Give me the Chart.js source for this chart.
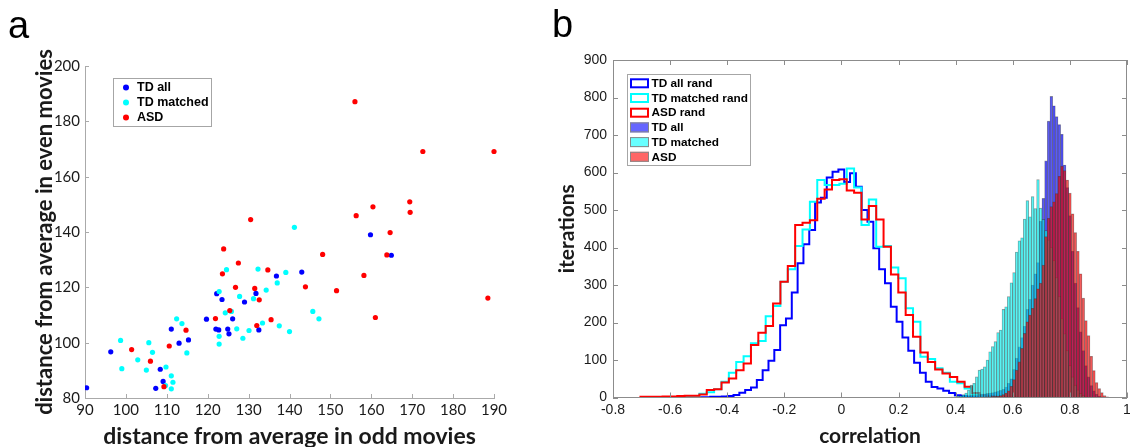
<!DOCTYPE html>
<html>
<head>
<meta charset="utf-8">
<title>Distance and correlation</title>
<script src="https://cdn.jsdelivr.net/npm/chart.js"></script>
<style>
    body { margin: 0; background: #fff; width: 1130px; height: 447px; overflow: hidden; position: relative; }
    .panel { position: absolute; top: 0; height: 447px; }
    #wrapA { left: 0; width: 545px; }
    #wrapB { left: 545px; width: 585px; }
    .letter { position: absolute; font-family: 'Liberation Sans', Arial, sans-serif; font-size: 38px; line-height: 38px; color: #000; }
</style>
</head>
<body>
<div class="panel" id="wrapA"><canvas id="chartA"></canvas></div>
<div class="panel" id="wrapB"><canvas id="chartB"></canvas></div>
<div class="letter" style="left:8px; top:6px;">a</div>
<div class="letter" style="left:552px; top:5px;">b</div>
<script>
// ---- panel a: [odd movies, even movies] distances ----
const tdAll = [[90.4, 83.7], [96.3, 96.7], [107.3, 83.5], [108.4, 90.4], [109.1, 86], [111.1, 104.9], [113, 99.8],
    [115.3, 101], [119.7, 108.5], [122.2, 117.7], [122, 104.9], [122.7, 104.6], [123.5, 115.6], [124.9, 104.9],
    [125.2, 103.2], [126.1, 108.6], [129, 114.7], [131.8, 117.8], [132.5, 104.6], [136.8, 124.1], [143, 125.5],
    [159.8, 139], [164.9, 131.6]];
const tdMatched = [[98.7, 100.8], [99, 90.6], [102.9, 93.8], [105, 90.1], [105.6, 100], [106.5, 96.5], [109.8, 91.2],
    [111.1, 88], [111.5, 85.7], [109.7, 84.5], [111.1, 83.3], [112.4, 108.6], [113.7, 106.9], [114.9, 96.3],
    [122.8, 118.5], [122.8, 99.5], [122.8, 102.3], [124.3, 110.8], [124.6, 126.4], [125.8, 111.3], [127.1, 105],
    [127.8, 116.7], [128.6, 101.6], [130.1, 104.4], [131.2, 115.9], [132.3, 126.6], [133.4, 107.1], [134.3, 119],
    [137, 121.6], [137.5, 106.1], [139.1, 125.4], [140, 104], [141.2, 141.7], [145.7, 111.3], [147.2, 108.6]];
const asd = [[101.4, 97.5], [106, 93.3], [109.3, 84.1], [110.6, 98.8], [114.7, 104.5], [121.9, 108.7], [123.6, 124.9],
    [123.9, 133.9], [125.4, 111.6], [126.8, 120], [127.5, 128.8], [130.5, 144.5], [131.5, 119.6], [132, 106.2],
    [132.6, 115.5], [134.7, 126.3], [135.5, 108.3], [143.9, 120.2], [148.1, 131.9], [151.5, 118.8], [156, 187.1],
    [172.6, 169.1], [190, 169.1], [169.4, 150.9], [169.5, 147.1], [160.4, 149.1], [156.3, 145.9], [164.6, 139.8],
    [163.8, 131.7], [158.2, 124.3], [188.5, 116.1], [161, 109.1]];

// ---- panel b: correlation histograms (counts per bin) ----
// null distributions, step outlines
const tdAllRandStart = -0.5105, tdAllRandWidth = 0.0204;
const tdAllRand = [1, 1, 1, 2, 2, 3, 4, 7, 13, 20, 27, 47, 73, 98, 127, 193, 211, 280, 358, 409, 447, 520, 533, 587,
    602, 608, 575, 598, 562, 500, 469, 398, 342, 305, 242, 202, 160, 125, 93, 66, 42, 28, 24, 18, 12, 6, 4, 2, 1];
const tdMatchedRandStart = -0.562, tdMatchedRandWidth = 0.0258;
const tdMatchedRand = [1, 2, 4, 10, 14, 22, 42, 66, 95, 110, 145, 151, 217, 244, 309, 342, 404, 448, 522, 580, 567,
    567, 570, 611, 560, 460, 528, 402, 404, 347, 318, 238, 202, 109, 103, 78, 66, 42, 38, 24, 10, 5, 3, 2, 1];
const asdRandStart = -0.691, asdRandWidth = 0.0258;
const asdRand = [2, 2, 2, 3, 3, 4, 5, 5, 8, 20, 22, 40, 51, 73, 91, 140, 173, 191, 251, 309, 351, 460, 466, 473, 530,
    555, 580, 582, 552, 546, 475, 511, 475, 402, 328, 280, 220, 162, 120, 95, 75, 64, 55, 42, 29, 12, 6, 4, 3, 2, 2, 1];
// observed distributions, filled bars (shared bins)
const obsStart = 0.3804, obsWidth = 0.00933;
const tdAllObs = [0, 1, 1, 2, 2, 3, 4, 5, 6, 6, 7, 8, 9, 10, 11, 12, 13, 15, 17, 19, 22, 28, 38, 50, 75, 105, 135, 160,
    190, 235, 262, 300, 330, 360, 470, 531, 631, 737, 803, 778, 749, 728, 702, 620, 560, 485, 390, 305, 240, 175, 125,
    85, 55, 32, 18, 9, 4, 2, 1, 0];
const tdMatchedObs = [1, 1, 2, 3, 5, 8, 12, 20, 33, 38, 55, 73, 76, 82, 100, 122, 136, 149, 173, 180, 235, 242, 269,
    306, 333, 388, 418, 426, 476, 525, 482, 536, 504, 581, 505, 475, 445, 420, 400, 365, 320, 270, 210, 170, 125, 85,
    55, 33, 20, 11, 5, 2, 1, 0, 0, 0, 0, 0, 0, 0];
const asdObs = [0, 0, 0, 0, 0, 1, 1, 1, 1, 1, 1, 2, 2, 2, 2, 2, 3, 3, 3, 5, 8, 12, 18, 30, 48, 73, 95, 131, 171, 202,
    220, 238, 264, 290, 305, 353, 429, 478, 509, 522, 544, 590, 617, 605, 580, 545, 490, 440, 390, 330, 265, 205, 165,
    110, 72, 40, 24, 13, 5, 2];

function toPoints(pairs) {
    return pairs.map(p => ({x: p[0], y: p[1]}));
}

// stairs outline through the bin edges
function outline(start, width, counts) {
    const end = start + (counts.length - 0.5) * width;
    const pts = [{x: start - width / 2, y: 0}];
    counts.forEach((c, i) => pts.push({x: start + (i - 0.5) * width, y: c}));
    pts.push({x: end, y: counts[counts.length - 1]});
    pts.push({x: end, y: 0});
    return pts;
}

function bars(counts) {
    return counts.map((c, i) => ({x: obsStart + i * obsWidth, y: c}));
}

const boxLegend = {
    id: 'boxLegend',
    afterDraw(chart, args, o) {
        const ctx = chart.ctx;
        ctx.save();
        ctx.fillStyle = '#fff';
        ctx.fillRect(o.x, o.y, o.w, o.h);
        ctx.strokeStyle = '#a6a6a6';
        ctx.lineWidth = 1;
        ctx.strokeRect(o.x + 0.5, o.y + 0.5, o.w, o.h);
        ctx.font = o.font;
        ctx.textBaseline = 'middle';
        chart.data.datasets.forEach((ds, i) => {
            const cy = o.y + o.row0 + i * o.rowStep;
            if (o.dots) {
                ctx.fillStyle = ds.backgroundColor;
                ctx.beginPath();
                ctx.arc(o.markX, cy, 3, 0, Math.PI * 2);
                ctx.fill();
            } else if (ds.type === 'line') {
                ctx.fillStyle = '#fff';
                ctx.fillRect(o.markX, cy - 5, 19, 10);
                ctx.strokeStyle = ds.borderColor;
                ctx.lineWidth = 2;
                ctx.strokeRect(o.markX + 1, cy - 4, 17, 8);
            } else {
                ctx.fillStyle = ds.backgroundColor;
                ctx.fillRect(o.markX, cy - 5, 19, 10);
                ctx.strokeStyle = '#888';
                ctx.lineWidth = 1;
                ctx.strokeRect(o.markX + 0.5, cy - 4.5, 18, 9);
            }
            ctx.fillStyle = '#000';
            ctx.fillText(ds.label, o.textX, cy + 0.5);
        });
        ctx.restore();
    }
};

// MATLAB style ticks pointing into the axes
const inwardTicks = {
    id: 'inwardTicks',
    afterDraw(chart, args, o) {
        const {ctx, chartArea: a, scales: {x, y}} = chart;
        ctx.save();
        ctx.strokeStyle = o.color;
        ctx.lineWidth = 1;
        ctx.beginPath();
        x.ticks.forEach(t => {
            const px = Math.round(x.getPixelForValue(t.value)) + 0.5;
            ctx.moveTo(px, a.bottom);
            ctx.lineTo(px, a.bottom - o.len);
            if (o.box) {
                ctx.moveTo(px, a.top);
                ctx.lineTo(px, a.top + o.len);
            }
        });
        y.ticks.forEach(t => {
            const py = Math.round(y.getPixelForValue(t.value)) + 0.5;
            ctx.moveTo(a.left, py);
            ctx.lineTo(a.left + o.len, py);
            if (o.box) {
                ctx.moveTo(a.right, py);
                ctx.lineTo(a.right - o.len, py);
            }
        });
        if (o.box) {
            ctx.rect(Math.round(a.left) + 0.5, Math.round(a.top) + 0.5,
                Math.round(a.right - a.left) - 1, Math.round(a.bottom - a.top) - 1);
        }
        ctx.stroke();
        ctx.restore();
    }
};

const tickFontA = {family: 'Lato', size: 15};

new Chart(document.getElementById('chartA'), {
    type: 'scatter',
    data: {
        datasets: [
            {label: 'TD all', data: toPoints(tdAll), backgroundColor: '#0000ff', order: 3},
            {label: 'TD matched', data: toPoints(tdMatched), backgroundColor: '#00ffff', order: 2},
            {label: 'ASD', data: toPoints(asd), backgroundColor: '#ff0000', order: 1, clip: false}
        ]
    },
    options: {
        responsive: true,
        maintainAspectRatio: false,
        animation: false,
        events: [],
        layout: {padding: {top: 66, right: 51, left: 0, bottom: 0}},
        elements: {point: {radius: 2.6, borderWidth: 0}},
        scales: {
            x: {
                type: 'linear', min: 90, max: 190,
                grid: {display: false, drawTicks: false},
                border: {display: true, color: '#aaaaaa'},
                ticks: {stepSize: 10, autoSkip: false, maxRotation: 0, padding: 3, color: '#1a1a1a', font: tickFontA},
                title: {display: true, text: 'distance from average in odd movies', color: '#1a1a1a',
                    font: {family: 'Lato', size: 23, weight: 'bold', lineHeight: 1}, padding: {top: 0, bottom: -1}},
                afterFit: s => { s.height = 49; s.paddingLeft = 0; s.paddingRight = 0; }
            },
            y: {
                type: 'linear', min: 80, max: 200,
                grid: {display: false, drawTicks: false},
                border: {display: true, color: '#aaaaaa'},
                ticks: {stepSize: 20, autoSkip: false, padding: 5, color: '#1a1a1a', font: tickFontA},
                title: {display: true, text: 'distance from average in even movies', color: '#1a1a1a',
                    font: {family: 'Lato', size: 22, weight: 'bold', lineHeight: 1}, padding: {top: 34, bottom: 0}},
                afterFit: s => { s.width = 85; }
            }
        },
        plugins: {
            legend: {display: false},
            tooltip: {enabled: false},
            boxLegend: {x: 113, y: 78, w: 98, h: 48, row0: 9.5, rowStep: 15, markX: 126, textX: 137,
                dots: true, font: 'bold 12.5px "Liberation Sans", Arial, sans-serif'},
            inwardTicks: {color: '#aaaaaa', len: 4, box: false}
        }
    },
    plugins: [inwardTicks, boxLegend]
});

const tickFontB = {family: 'Liberation Sans', size: 14};
const titleFontB = {family: 'Lato', size: 21, weight: 'bold', lineHeight: 1};
const barEdge = 'rgba(45,45,45,0.5)';

new Chart(document.getElementById('chartB'), {
    type: 'bar',
    data: {
        datasets: [
            {type: 'line', label: 'TD all rand', data: outline(tdAllRandStart, tdAllRandWidth, tdAllRand),
                borderColor: '#0000ff', order: 6},
            {type: 'line', label: 'TD matched rand', data: outline(tdMatchedRandStart, tdMatchedRandWidth, tdMatchedRand),
                borderColor: '#00ffff', order: 5},
            {type: 'line', label: 'ASD rand', data: outline(asdRandStart, asdRandWidth, asdRand),
                borderColor: '#ff0000', order: 4},
            {type: 'bar', label: 'TD all', data: bars(tdAllObs), backgroundColor: 'rgba(0,0,255,0.6)', order: 3},
            {type: 'bar', label: 'TD matched', data: bars(tdMatchedObs), backgroundColor: 'rgba(0,255,255,0.6)', order: 2},
            {type: 'bar', label: 'ASD', data: bars(asdObs), backgroundColor: 'rgba(255,0,0,0.6)', order: 1}
        ]
    },
    options: {
        responsive: true,
        maintainAspectRatio: false,
        animation: false,
        events: [],
        layout: {padding: {top: 60, right: 3, left: 0, bottom: 0}},
        elements: {
            line: {stepped: 'before', borderWidth: 2, fill: false, tension: 0},
            point: {radius: 0},
            bar: {borderWidth: 0.6, borderColor: barEdge}
        },
        datasets: {
            bar: {grouped: false, barPercentage: 1, categoryPercentage: 1}
        },
        scales: {
            x: {
                type: 'linear', min: -0.8, max: 1, offset: false,
                grid: {display: false, drawTicks: false},
                border: {display: true, color: '#8c8c8c'},
                ticks: {stepSize: 0.2, autoSkip: false, maxRotation: 0, padding: 4, color: '#1a1a1a', font: tickFontB,
                    callback: v => String(Number(v.toFixed(1)))},
                title: {display: true, text: 'correlation', color: '#1a1a1a', font: titleFontB,
                    padding: {top: 0, bottom: 0}},
                afterFit: s => { s.height = 49.5; s.paddingLeft = 0; s.paddingRight = 0; }
            },
            y: {
                type: 'linear', min: 0, max: 900,
                grid: {display: false, drawTicks: false},
                border: {display: true, color: '#8c8c8c'},
                ticks: {stepSize: 100, autoSkip: false, padding: 6, color: '#1a1a1a', font: tickFontB},
                title: {display: true, text: 'iterations', color: '#1a1a1a', font: titleFontB,
                    padding: {top: 12, bottom: 0}},
                afterFit: s => { s.width = 68; }
            }
        },
        plugins: {
            legend: {display: false},
            tooltip: {enabled: false},
            boxLegend: {x: 82, y: 74, w: 123, h: 91, row0: 9.3, rowStep: 14.7, markX: 85, textX: 106.5,
                dots: false, font: 'bold 11.8px "Liberation Sans", Arial, sans-serif'},
            inwardTicks: {color: '#8c8c8c', len: 5, box: true}
        }
    },
    plugins: [inwardTicks, boxLegend]
});
</script>
</body>
</html>
